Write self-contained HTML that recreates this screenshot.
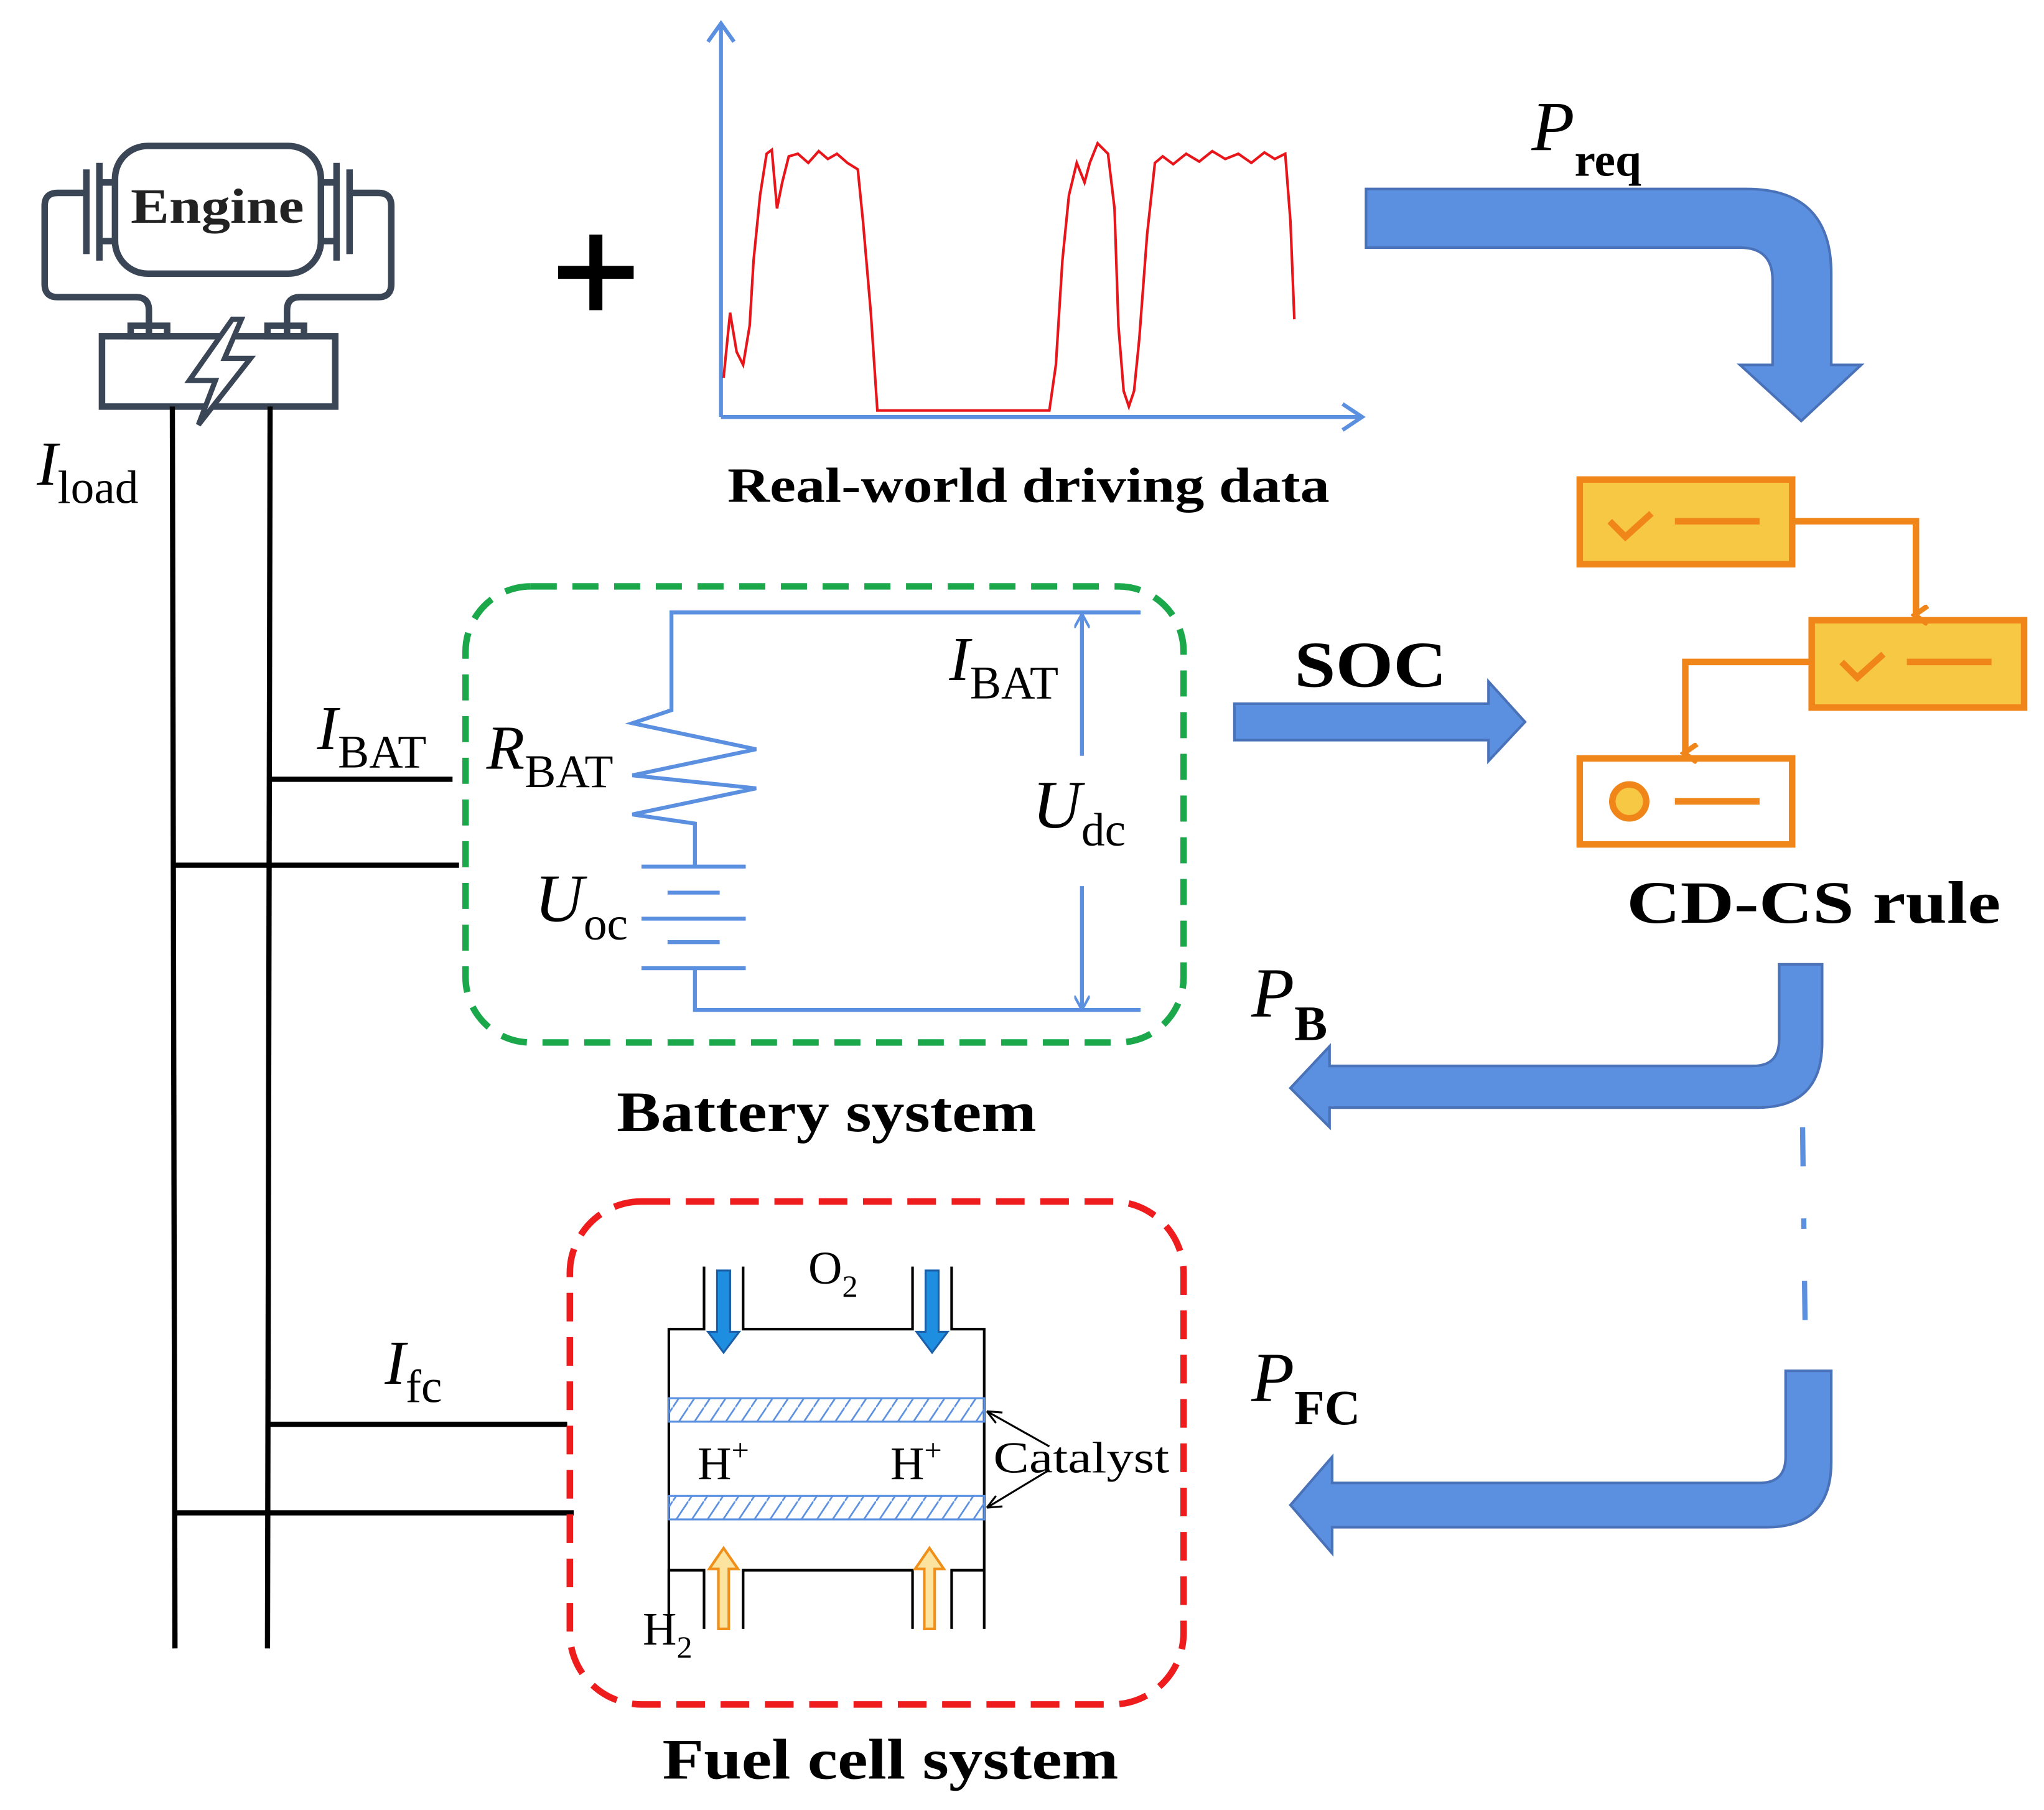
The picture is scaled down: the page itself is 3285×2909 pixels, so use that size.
<!DOCTYPE html>
<html><head><meta charset="utf-8"><style>
html,body{margin:0;padding:0;background:#fff;}
svg{display:block;}
text{font-family:"Liberation Serif",serif;}
</style></head><body>
<svg width="3285" height="2909" viewBox="0 0 1568 1389" xmlns="http://www.w3.org/2000/svg">
<defs>
<marker id="ab" markerWidth="12" markerHeight="12" refX="10" refY="6" orient="auto" markerUnits="userSpaceOnUse"><path d="M0,0 L11,6 L0,12" fill="none" stroke="#5b8fe0" stroke-width="2"/></marker>
<marker id="ao" markerWidth="16" markerHeight="16" refX="8" refY="12" orient="auto" markerUnits="userSpaceOnUse"><path d="M1,3 L8,13 L15,3" fill="none" stroke="#f0861a" stroke-width="4"/></marker>
<pattern id="hatch" width="12" height="18" patternUnits="userSpaceOnUse"><path d="M0,18 L12,0" stroke="#5b8fe0" stroke-width="1.3"/></pattern>
</defs>
<rect width="1568" height="1389" fill="#fff"/>

<!-- Engine -->
<g stroke="#3a4656" stroke-width="5" fill="none">
<rect x="88" y="112" width="158" height="98" rx="25"/>
<path d="M88,140 h-12 v45 h12 M76,125 v75 M66,130 v65 M66,148 h-22 q-10,0 -10,10 v60 q0,10 10,10 h60 q10,0 10,10 v20"/>
<path d="M246,140 h12 v45 h-12 M258,125 v75 M268,130 v65 M268,148 h22 q10,0 10,10 v60 q0,10 -10,10 h-60 q-10,0 -10,10 v20"/>
<rect x="78" y="258" width="179" height="54"/>
<rect x="100" y="250" width="28" height="8"/>
<rect x="205" y="250" width="28" height="8"/>
</g>
<path d="M178,245 L145,292 L165,292 L152,326 L192,275 L172,275 L185,245 Z" fill="#fff" stroke="#3a4656" stroke-width="4"/>
<text x="100" y="171" font-size="38" font-weight="bold" fill="#222" textLength="133" lengthAdjust="spacingAndGlyphs">Engine</text>

<!-- bus lines -->
<g stroke="#000" stroke-width="4">
<line x1="132" y1="312" x2="134" y2="1265"/>
<line x1="207" y1="312" x2="205" y2="1265"/>
<line x1="207" y1="598" x2="347" y2="598"/>
<line x1="132" y1="664" x2="352" y2="664"/>
<line x1="205" y1="1093" x2="435" y2="1093"/>
<line x1="134" y1="1161" x2="440" y2="1161"/>
</g>
<text x="28" y="372" font-size="48" font-style="italic">I<tspan font-size="36" font-style="normal" dy="14">load</tspan></text>
<text x="243" y="575" font-size="48" font-style="italic">I<tspan font-size="36" font-style="normal" dy="14">BAT</tspan></text>
<text x="295" y="1062" font-size="48" font-style="italic">I<tspan font-size="36" font-style="normal" dy="14">fc</tspan></text>

<!-- plus -->
<path d="M457,180 v58 M428,209 h58" stroke="#000" stroke-width="10"/>

<!-- chart -->
<g stroke="#5b8fe0" stroke-width="3" fill="none">
<path d="M553,320 V18 M543,32 L553,18 L563,32"/>
<path d="M553,320 H1045 M1030,310 L1045,320 L1030,330"/>
</g>
<path d="M555,290 L560,240 L565,270 L570,280 L575,250 L578,200 L583,150 L588,118 L592,115 L596,160 L600,140 L605,120 L612,118 L620,125 L628,116 L635,122 L642,118 L650,125 L658,130 L662,170 L668,240 L673,315 L805,315 L810,280 L815,200 L820,150 L826,125 L832,140 L836,125 L842,110 L850,118 L855,160 L858,250 L862,300 L866,312 L870,300 L874,260 L880,180 L886,125 L892,120 L900,126 L910,118 L920,124 L930,116 L940,122 L950,118 L960,125 L970,117 L978,122 L986,118 L990,170 L993,245" fill="none" stroke="#e8161b" stroke-width="2"/>
<text x="558" y="385" font-size="38" font-weight="bold" textLength="462" lengthAdjust="spacingAndGlyphs">Real-world driving data</text>

<!-- P_req arrow -->
<path d="M1048,145 H1340 Q1405,145 1405,210 V280 H1428 L1382,323 L1335,280 H1360 V215 Q1360,190 1335,190 H1048 Z" fill="#5b8fe0" stroke="#4a72b8" stroke-width="2"/>
<text x="1175" y="115" font-size="54" font-style="italic">P<tspan font-size="36" font-style="normal" font-weight="bold" dy="20">req</tspan></text>

<!-- CD-CS boxes -->
<g stroke="#f0861a" stroke-width="5">
<rect x="1212" y="368" width="163" height="65" fill="#f7c843"/>
<rect x="1390" y="476" width="163" height="67" fill="#f7c843"/>
<rect x="1212" y="582" width="163" height="66" fill="#fff"/>
<path d="M1235,400 l12,12 l20,-18 M1285,400 h65" fill="none"/>
<path d="M1413,508 l12,12 l20,-18 M1463,508 h65" fill="none"/>
<path d="M1285,615 h65" fill="none"/>
<circle cx="1250" cy="615" r="13" fill="#f7c843"/>
<path d="M1375,400 H1470 V472" fill="none" marker-end="url(#ao)"/>
<path d="M1390,508 H1293 V578" fill="none" marker-end="url(#ao)"/>
</g>
<text x="1248" y="708" font-size="46" font-weight="bold" textLength="287" lengthAdjust="spacingAndGlyphs">CD-CS rule</text>

<!-- SOC arrow -->
<path d="M947,540 H1142 V523 L1170,554 L1142,584 V568 H947 Z" fill="#5b8fe0" stroke="#4a72b8" stroke-width="2"/>
<text x="993" y="527" font-size="50" font-weight="bold" textLength="117" lengthAdjust="spacingAndGlyphs">SOC</text>

<!-- battery box -->
<rect x="357" y="450" width="551" height="350" rx="50" fill="none" stroke="#1aa84a" stroke-width="5" stroke-dasharray="20,12"/>
<g stroke="#5b8fe0" stroke-width="3" fill="none">
<path d="M875,470 H515 V545 L485,555 L580,575 L485,595 L580,605 L485,625 L533,632 V665"/>
<path d="M492,665 H572 M512,685 H552 M492,705 H572 M512,723 H552 M492,743 H572"/>
<path d="M533,743 V775 H875"/>
<line x1="830" y1="580" x2="830" y2="472" marker-end="url(#ab)"/>
<line x1="830" y1="680" x2="830" y2="774" marker-end="url(#ab)"/>
</g>
<text x="728" y="522" font-size="48" font-style="italic">I<tspan font-size="36" font-style="normal" dy="14">BAT</tspan></text>
<text x="373" y="590" font-size="48" font-style="italic">R<tspan font-size="36" font-style="normal" dy="14">BAT</tspan></text>
<text x="792" y="635" font-size="52" font-style="italic">U<tspan font-size="36" font-style="normal" dy="14">dc</tspan></text>
<text x="410" y="707" font-size="52" font-style="italic">U<tspan font-size="36" font-style="normal" dy="14">oc</tspan></text>
<text x="473" y="868" font-size="44" font-weight="bold" textLength="322" lengthAdjust="spacingAndGlyphs">Battery system</text>

<!-- P_B arrow -->
<path d="M1365,740 H1398 V800 Q1398,850 1348,850 H1020 V865 L990,835 L1020,803 V818 H1345 Q1365,818 1365,798 Z" fill="#5b8fe0" stroke="#4a72b8" stroke-width="2"/>
<text x="960" y="780" font-size="54" font-style="italic">P<tspan font-size="38" font-style="normal" font-weight="bold" dy="18">B</tspan></text>
<line x1="1383" y1="865" x2="1385" y2="1022" stroke="#5b8fe0" stroke-width="4" stroke-dasharray="30,40,8,40"/>

<!-- P_FC arrow -->
<path d="M1370,1052 H1405 V1122 Q1405,1172 1355,1172 H1022 V1192 L990,1155 L1022,1118 V1138 H1350 Q1370,1138 1370,1118 Z" fill="#5b8fe0" stroke="#4a72b8" stroke-width="2"/>
<text x="960" y="1075" font-size="54" font-style="italic">P<tspan font-size="38" font-style="normal" font-weight="bold" dy="18">FC</tspan></text>

<!-- fuel cell -->
<rect x="437" y="922" width="471" height="386" rx="55" fill="none" stroke="#ee1c1c" stroke-width="5" stroke-dasharray="22,12"/>
<g stroke="#000" stroke-width="2" fill="none">
<path d="M540,972 V1020 H513 V1250 M570,972 V1020 H700 V972 M730,972 V1020 H755 V1250"/>
<path d="M513,1250 V1205 H540 V1250 M570,1250 V1205 H700 V1250 M730,1250 V1205 H755"/>
</g>
<rect x="513" y="1073" width="242" height="18" fill="url(#hatch)" stroke="#5b8fe0" stroke-width="1.5"/>
<rect x="513" y="1148" width="242" height="18" fill="url(#hatch)" stroke="#5b8fe0" stroke-width="1.5"/>
<g stroke="#1a5fa8" stroke-width="1.5" fill="#1e8fe0">
<path d="M550,975 H560 V1022 H567 L555,1038 L543,1022 H550 Z"/>
<path d="M710,975 H720 V1022 H727 L715,1038 L703,1022 H710 Z"/>
</g>
<g stroke="#f0901a" stroke-width="2" fill="#fde3a0">
<path d="M551,1250 H559 V1204 H566 L555,1188 L544,1204 H551 Z"/>
<path d="M709,1250 H717 V1204 H724 L713,1188 L702,1204 H709 Z"/>
</g>
<g stroke="#000" stroke-width="1.5" fill="none">
<path d="M805,1110 L757,1083 M757,1083 l12,1 M757,1083 l7,9"/>
<path d="M805,1128 L757,1157 M757,1157 l7,-9 M757,1157 l12,-1"/>
</g>
<g font-family="Liberation Sans, sans-serif" font-size="36">
<text x="620" y="985">O<tspan font-size="24" dy="10">2</tspan></text>
<text x="535" y="1135">H<tspan font-size="24" dy="-14">+</tspan></text>
<text x="683" y="1135">H<tspan font-size="24" dy="-14">+</tspan></text>
<text x="493" y="1262">H<tspan font-size="24" dy="10">2</tspan></text>
</g>
<text x="762" y="1130" font-size="34" textLength="135" lengthAdjust="spacingAndGlyphs">Catalyst</text>
<text x="508" y="1365" font-size="44" font-weight="bold" textLength="350" lengthAdjust="spacingAndGlyphs">Fuel cell system</text>
</svg>
</body></html>
